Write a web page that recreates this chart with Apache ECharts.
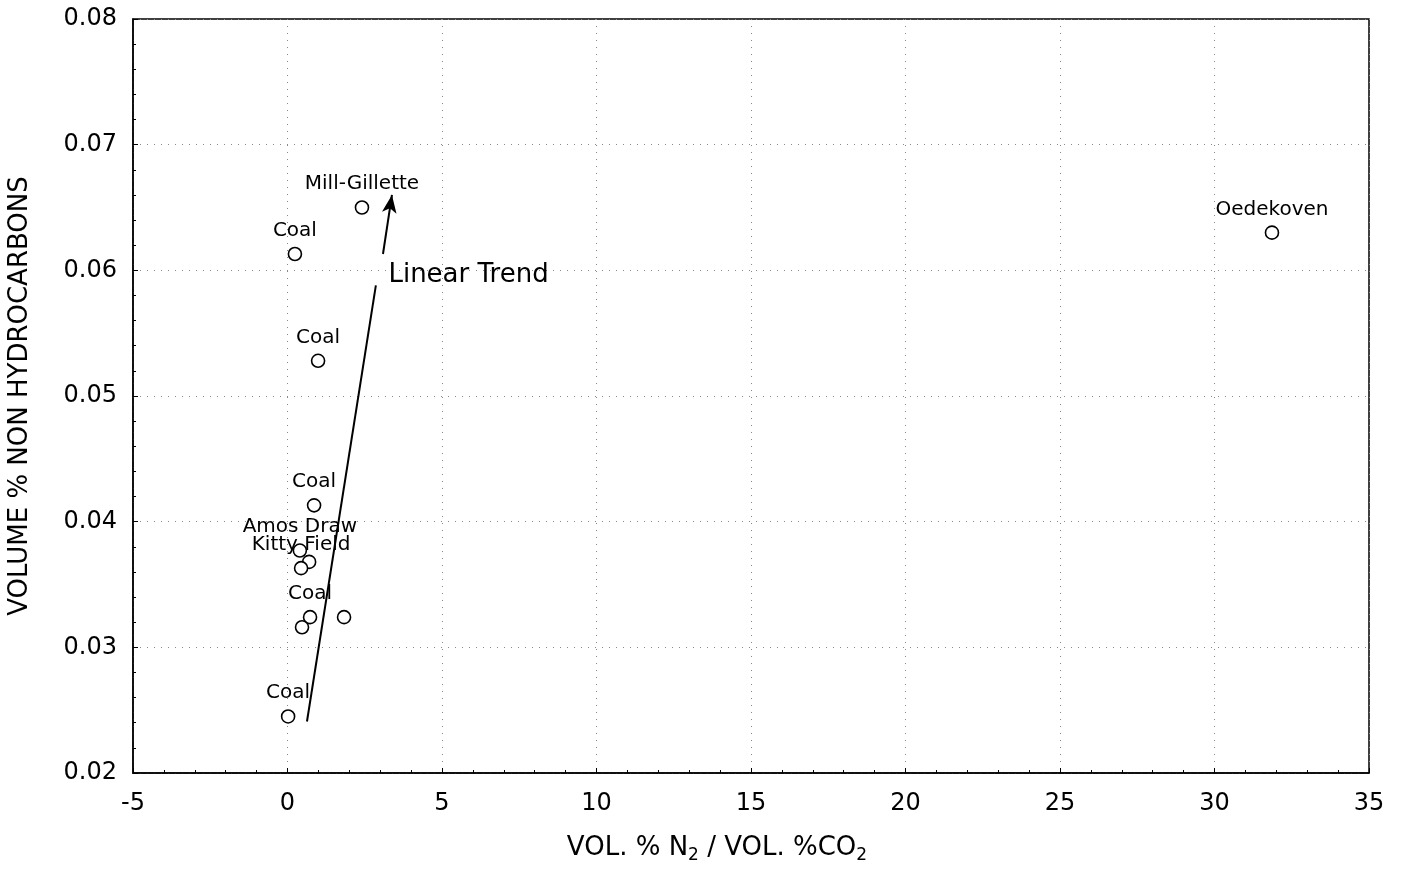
<!DOCTYPE html>
<html>
<head>
<meta charset="utf-8">
<script src="https://cdn.jsdelivr.net/npm/echarts@6/dist/echarts.min.js"></script>
<style>
  html, body { margin: 0; padding: 0; background: #fff; }
  #chart { width: 1401px; height: 870px; }
</style>
</head>
<body>
<div id="chart"></div>
<script>
// sample points: [N2/CO2 ratio, vol % non hydrocarbons, label]
const ratioN2CO2 = [2.41, 0.24, 0.99, 0.86, 0.40, 0.70, 0.44, 0.73, 0.47, 1.83, 0.02, 31.86];
const nonHydrocarbons = [0.0650, 0.0613, 0.0528, 0.0413, 0.0377, 0.0368, 0.0363, 0.0324, 0.0316, 0.0324, 0.0245, 0.0630];
const pointNames = ['Mill-Gillette', 'Coal', 'Coal', 'Coal', 'Amos Draw', '', 'Kitty Field', 'Coal', '', '', 'Coal', 'Oedekoven'];

// hand-drawn trend line + arrow (data coords)
const trendLine = [[0.63, 0.0241], [2.86, 0.0588]];
const trendArrow = [[3.09, 0.0613], [3.38, 0.0660]];
const trendLabelAt = [3.25, 0.0596];

const xTicks = {min: -5, max: 35, interval: 5};
const yTicks = {min: 0.02, max: 0.08, interval: 0.01};

const FONT = 'DejaVu Sans';

let myChart = echarts.init(document.getElementById('chart'));

let points = ratioN2CO2.map((x, i) => ({
  value: [x, nonHydrocarbons[i]],
  name: pointNames[i],
  label: {show: pointNames[i] !== ''}
}));

let option = {
  animation: false,
  grid: {left: 133, right: 32, top: 19, bottom: 97, outerBoundsMode: 'none',
    show: true, borderColor: '#000', borderWidth: 1.5},
  xAxis: {
    type: 'value',
    min: xTicks.min, max: xTicks.max, interval: xTicks.interval,
    name: '{a|VOL. % N}{s|2}{a| / VOL. %CO}{s|2}',
    nameLocation: 'middle', nameGap: 60,
    nameTextStyle: {
      padding: [0, 68, 0, 0],
      rich: {
        a: {fontSize: 26, color: '#000', fontFamily: FONT},
        s: {fontSize: 17, color: '#000', fontFamily: FONT, padding: [14, 0, 0, 0]}
      }
    },
    axisLine: {show: true, onZero: false, lineStyle: {color: '#000', width: 1.5}},
    axisTick: {show: true, inside: true, length: 5, lineStyle: {color: '#000'}},
    minorTick: {show: true, splitNumber: 5, length: 3, lineStyle: {color: '#000'}},
    axisLabel: {color: '#000', fontSize: 24, fontFamily: FONT, margin: 19},
    splitLine: {show: true, lineStyle: {color: '#888', type: [1, 6], width: 1}}
  },
  yAxis: {
    type: 'value',
    min: yTicks.min, max: yTicks.max, interval: yTicks.interval,
    name: 'VOLUME % NON HYDROCARBONS',
    nameLocation: 'middle', nameGap: 100,
    nameTextStyle: {fontSize: 26, color: '#000', fontFamily: FONT},
    axisLine: {show: true, onZero: false, lineStyle: {color: '#000', width: 1.5}},
    axisTick: {show: true, inside: true, length: 5, lineStyle: {color: '#000'}},
    minorTick: {show: true, splitNumber: 5, length: 3, lineStyle: {color: '#000'}},
    axisLabel: {color: '#000', fontSize: 24, fontFamily: FONT, margin: 16,
      formatter: (v) => v.toFixed(2)},
    splitLine: {show: true, lineStyle: {color: '#888', type: [1, 6], width: 1}}
  },
  series: [
    {
      type: 'scatter',
      data: points,
      symbol: 'circle',
      symbolSize: 13,
      itemStyle: {color: '#fff', borderColor: '#000', borderWidth: 1.6, opacity: 1},
      label: {
        position: 'top', distance: 6,
        formatter: (p) => p.name,
        color: '#000', fontSize: 20, fontFamily: FONT
      },
      z: 3
    },
    {
      type: 'line',
      data: trendLine,
      symbol: 'none',
      lineStyle: {color: '#000', width: 2},
      markLine: {
        silent: true,
        symbol: ['none', 'arrow'],
        symbolSize: [11, 18],
        label: {show: false},
        lineStyle: {color: '#000', width: 2, type: 'solid'},
        data: [[{coord: trendArrow[0]}, {coord: trendArrow[1]}]]
      },
      z: 2
    },
    {
      type: 'scatter',
      data: [trendLabelAt],
      symbolSize: 1,
      itemStyle: {color: '#fff', opacity: 1},
      label: {
        show: true, position: 'right', distance: 0,
        formatter: 'Linear Trend',
        color: '#000', fontSize: 26, fontFamily: FONT
      }
    }
  ]
};
myChart.setOption(option);
</script>
</body>
</html>
